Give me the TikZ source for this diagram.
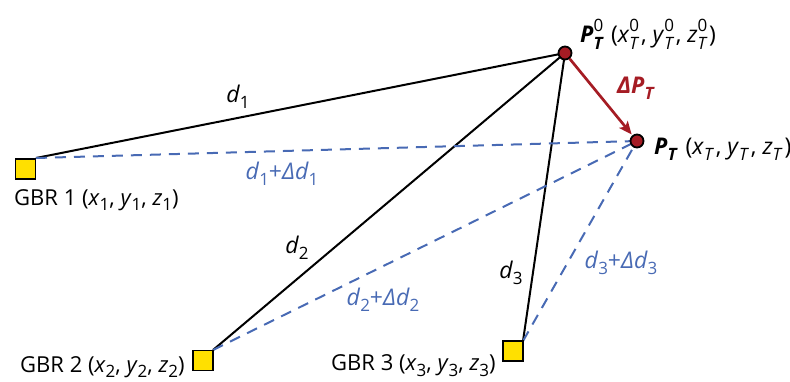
\documentclass[tikz,border=0pt]{standalone}
\usepackage{fontspec}
\setmainfont{Open Sans}
\usetikzlibrary{arrows.meta}
\definecolor{dred}{RGB}{165,28,36}
\definecolor{dblue}{RGB}{72,106,180}
\definecolor{gyel}{RGB}{255,224,0}
\newcommand\lo[1]{\raisebox{-0.27em}{\fontsize{17}{17}\selectfont #1}}
\newcommand\hi[1]{\raisebox{0.5em}{\fontsize{17}{17}\selectfont #1}}
\newcommand\lohi[2]{\makebox[0pt][l]{\lo{#1}}\hi{#2}}
\newcommand\klo[1]{\lo{#1}\kern1.8pt\relax}
\newcommand\klohi[2]{\lohi{#1}{#2}\kern1.8pt\relax}
\tikzset{
  gbr/.style={draw=black, line width=1.8pt, fill=gyel, minimum size=20pt, inner sep=0pt},
  ptnode/.style={circle, draw=black, line width=1.8pt, fill=dred, minimum size=13pt, inner sep=0pt},
  dline/.style={black, line width=2pt},
  dashline/.style={dblue, line width=2pt, dash pattern=on 11pt off 8pt},
  lab/.style={font=\fontsize{23}{27}\selectfont, inner sep=0pt},
  glab/.style={font=\fontsize{22}{26}\selectfont, inner sep=0pt, anchor=west},
  blab/.style={lab, text=dblue},
}
\begin{document}
\begin{tikzpicture}[x=1pt,y=-1pt]
\useasboundingbox (0,0) rectangle (790,381);
% lines first
\coordinate (c1) at (36,158);
\coordinate (c2) at (213,350);
\coordinate (c3) at (523,341);
\coordinate (cp0) at (565,53);
\coordinate (cpt) at (637,141);
\draw[dline] (c1) -- (cp0);
\draw[dline] (c2) -- (cp0);
\draw[dline] (c3) -- (cp0);
\draw[dashline] (c1) -- (cpt);
\draw[dashline] (c2) -- (cpt);
\draw[dashline] (c3) -- (cpt);
% nodes
\node[gbr] (g1) at (25.5,169) {};
\node[gbr] (g2) at (203,360.5) {};
\node[gbr] (g3) at (513,351) {};
\node[ptnode] (p0) at (cp0) {};
\node[ptnode] (pt) at (cpt) {};
\draw[dred, line width=2.7pt, -{Stealth[length=13pt,width=11pt,inset=3pt]}, shorten >=1pt] (p0) -- (pt);
% labels
\node[glab] (l1) at (14,200) {GBR 1 (\textit{x}\lo{1}, \textit{y}\lo{1}, \textit{z}\lo{1})};
\node[glab] (l2) at (20,367) {GBR 2 (\textit{x}\lo{2}, \textit{y}\lo{2}, \textit{z}\lo{2})};
\node[glab] (l3) at (331,366) {GBR 3 (\textit{x}\lo{3}, \textit{y}\lo{3}, \textit{z}\lo{3})};
\node[lab, anchor=west] (lp0) at (580,34) {\textbf{\textit{P}}\klohi{\textbf{\textit{T}}}{0} (\textit{x}\klohi{\textit{T}}{0}, \textit{y}\klohi{\textit{T}}{0}, \textit{z}\klohi{\textit{T}}{0})};
\node[lab, anchor=west] (lpt) at (654,149) {\textbf{\textit{P}}\klo{\textbf{\textit{T}}} (\textit{x}\klo{\textit{T}}, \textit{y}\klo{\textit{T}}, \textit{z}\klo{\textit{T}})};
\node[lab, text=dred] (ldp) at (636,88) {\textbf{\textit{ΔP}}\lo{\textbf{\textit{T}}}};
\node[lab] (d1) at (238,97) {\textit{d}\lo{1}};
\node[lab] (d2) at (297,248) {\textit{d}\lo{2}};
\node[lab] (d3) at (511,273) {\textit{d}\lo{3}};
\node[blab] (e1) at (282,174) {\textit{d}\lo{1}+\textit{Δd}\lo{1}};
\node[blab] (e2) at (383,300) {\textit{d}\lo{2}+\textit{Δd}\lo{2}};
\node[blab] (e3) at (621,263) {\textit{d}\lo{3}+\textit{Δd}\lo{3}};
\end{tikzpicture}
\end{document}
